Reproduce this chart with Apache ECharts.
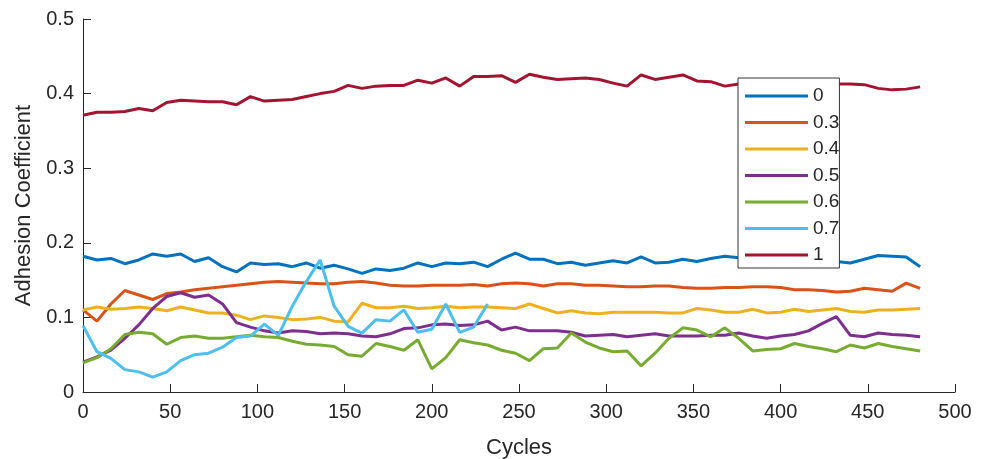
<!DOCTYPE html>
<html>
<head>
<meta charset="utf-8">
<script src="https://cdn.jsdelivr.net/npm/echarts@6/dist/echarts.min.js"></script>
<style>
  html, body { margin: 0; padding: 0; background: #fff; }
  #chart { width: 985px; height: 459px; }
</style>
</head>
<body>
<div id="chart"></div>
<script>
// cycle positions of the samples
const cycles = [0, 8, 16, 24, 32, 40, 48, 56, 64, 72, 80, 88, 96, 104, 112, 120, 128, 136, 144, 152,
  160, 168, 176, 184, 192, 200, 208, 216, 224, 232, 240, 248, 256, 264, 272, 280, 288, 296, 304, 312,
  320, 328, 336, 344, 352, 360, 368, 376, 384, 392, 400, 408, 416, 424, 432, 440, 448, 456, 464, 472, 480];

const seriesNames = ['0', '0.3', '0.4', '0.5', '0.6', '0.7', '1'];
const seriesColors = ['#0072BD', '#D95319', '#EDB120', '#7E2F8E', '#77AC30', '#4DBEEE', '#A2142F'];

const s0 = [0.182, 0.177, 0.179, 0.172, 0.177, 0.185, 0.182, 0.185, 0.175, 0.180,
  0.168, 0.161, 0.173, 0.171, 0.172, 0.168, 0.173, 0.166, 0.170, 0.165,
  0.159, 0.165, 0.163, 0.166, 0.173, 0.168, 0.173, 0.172, 0.174, 0.168,
  0.178, 0.186, 0.178, 0.178, 0.172, 0.174, 0.170, 0.173, 0.176, 0.173,
  0.181, 0.173, 0.174, 0.178, 0.175, 0.179, 0.182, 0.180, 0.179, 0.178,
  0.177, 0.176, 0.176, 0.175, 0.175, 0.173, 0.178, 0.183, 0.182, 0.181,
  0.168];
const s03 = [0.110, 0.095, 0.118, 0.136, 0.130, 0.124, 0.132, 0.134, 0.137, 0.139,
  0.141, 0.143, 0.145, 0.147, 0.148, 0.147, 0.146, 0.145, 0.145, 0.147,
  0.148, 0.146, 0.143, 0.142, 0.142, 0.143, 0.143, 0.143, 0.144, 0.142,
  0.145, 0.146, 0.145, 0.142, 0.145, 0.145, 0.143, 0.143, 0.142, 0.141,
  0.141, 0.142, 0.142, 0.140, 0.139, 0.139, 0.140, 0.140, 0.141, 0.141,
  0.140, 0.137, 0.137, 0.136, 0.134, 0.135, 0.139, 0.137, 0.135, 0.146,
  0.139];
const s04 = [0.110, 0.114, 0.111, 0.112, 0.114, 0.112, 0.109, 0.114, 0.110, 0.106,
  0.106, 0.103, 0.097, 0.102, 0.100, 0.097, 0.098, 0.100, 0.095, 0.094,
  0.119, 0.113, 0.113, 0.115, 0.112, 0.113, 0.115, 0.113, 0.114, 0.114,
  0.113, 0.112, 0.118, 0.112, 0.106, 0.109, 0.106, 0.105, 0.107, 0.107,
  0.107, 0.107, 0.106, 0.106, 0.112, 0.110, 0.107, 0.107, 0.111, 0.106,
  0.107, 0.111, 0.108, 0.110, 0.112, 0.108, 0.107, 0.110, 0.110, 0.111,
  0.112];
const s05 = [0.040, 0.047, 0.056, 0.072, 0.090, 0.112, 0.128, 0.133, 0.127, 0.130,
  0.118, 0.093, 0.087, 0.082, 0.079, 0.082, 0.081, 0.078, 0.079, 0.078,
  0.075, 0.074, 0.078, 0.085, 0.086, 0.090, 0.091, 0.089, 0.090, 0.095,
  0.083, 0.087, 0.082, 0.082, 0.082, 0.080, 0.075, 0.076, 0.077, 0.074,
  0.076, 0.078, 0.075, 0.075, 0.075, 0.076, 0.076, 0.079, 0.075, 0.072,
  0.075, 0.077, 0.082, 0.092, 0.101, 0.076, 0.074, 0.079, 0.077, 0.076,
  0.074];
const s06 = [0.039, 0.046, 0.058, 0.077, 0.080, 0.078, 0.064, 0.073, 0.075, 0.072,
  0.072, 0.074, 0.076, 0.074, 0.073, 0.068, 0.064, 0.063, 0.061, 0.050,
  0.048, 0.065, 0.061, 0.056, 0.070, 0.031, 0.046, 0.070, 0.066, 0.063,
  0.056, 0.052, 0.042, 0.058, 0.059, 0.079, 0.067, 0.059, 0.054, 0.055,
  0.035, 0.052, 0.072, 0.086, 0.083, 0.074, 0.086, 0.072, 0.055, 0.057,
  0.058, 0.065, 0.061, 0.058, 0.054, 0.063, 0.059, 0.065, 0.061, 0.058,
  0.055];
// 0.7 only runs to cycle 232
const s07 = [0.089, 0.054, 0.045, 0.030, 0.027, 0.020, 0.027, 0.042, 0.050, 0.052,
  0.060, 0.073, 0.075, 0.091, 0.076, 0.115, 0.148, 0.177, 0.115, 0.088,
  0.079, 0.097, 0.095, 0.110, 0.080, 0.084, 0.118, 0.080, 0.087, 0.118];
const s1 = [0.371, 0.375, 0.375, 0.376, 0.380, 0.377, 0.388, 0.391, 0.390, 0.389,
  0.389, 0.385, 0.396, 0.390, 0.391, 0.392, 0.396, 0.400, 0.403, 0.411,
  0.407, 0.410, 0.411, 0.411, 0.418, 0.414, 0.421, 0.410, 0.423, 0.423,
  0.424, 0.415, 0.426, 0.422, 0.419, 0.420, 0.421, 0.419, 0.414, 0.410,
  0.425, 0.419, 0.422, 0.425, 0.417, 0.416, 0.410, 0.413, 0.413, 0.414,
  0.413, 0.414, 0.413, 0.412, 0.413, 0.413, 0.412, 0.407, 0.405, 0.406,
  0.409];

const allValues = [s0, s03, s04, s05, s06, s07, s1];

const chart = echarts.init(document.getElementById('chart'));
const axisColor = '#262626';
const font = 'Liberation Sans, Arial, sans-serif';

const series = allValues.map((vals, i) => ({
  name: seriesNames[i],
  type: 'line',
  data: vals.map((v, k) => [cycles[k], v]),
  symbol: 'none',
  lineStyle: { width: 3, color: seriesColors[i] },
  itemStyle: { color: seriesColors[i] },
  animation: false
}));

chart.setOption({
  backgroundColor: '#fff',
  grid: { left: 83, right: 30, top: 19, bottom: 67, outerBoundsMode: 'none' },
  legend: {
    orient: 'vertical',
    left: 738,
    top: 78,
    icon: 'rect',
    itemWidth: 63,
    itemHeight: 3,
    itemGap: 6.5,
    padding: [8, 0, 3, 7],
    backgroundColor: '#fff',
    borderColor: '#333',
    borderWidth: 1,
    textStyle: { fontSize: 19, lineHeight: 20, color: axisColor, fontFamily: font },
    data: seriesNames
  },
  xAxis: {
    type: 'value',
    min: 0,
    max: 500,
    interval: 50,
    name: 'Cycles',
    nameLocation: 'middle',
    nameGap: 45,
    nameTextStyle: { fontSize: 22, color: axisColor, fontFamily: font },
    axisLine: { lineStyle: { color: axisColor, width: 1 } },
    axisTick: { inside: true, length: 8, lineStyle: { color: axisColor } },
    axisLabel: { fontSize: 20, color: axisColor, margin: 10, fontFamily: font },
    splitLine: { show: false }
  },
  yAxis: {
    type: 'value',
    min: 0,
    max: 0.5,
    interval: 0.1,
    name: 'Adhesion Coefficient',
    nameLocation: 'middle',
    nameGap: 36,
    nameTextStyle: { fontSize: 22, color: axisColor, fontFamily: font },
    axisLine: { show: true, lineStyle: { color: axisColor, width: 1 } },
    axisTick: { show: true, inside: true, length: 8, lineStyle: { color: axisColor } },
    axisLabel: { fontSize: 20, color: axisColor, margin: 9, fontFamily: font },
    splitLine: { show: false }
  },
  series: series
});
</script>
</body>
</html>
